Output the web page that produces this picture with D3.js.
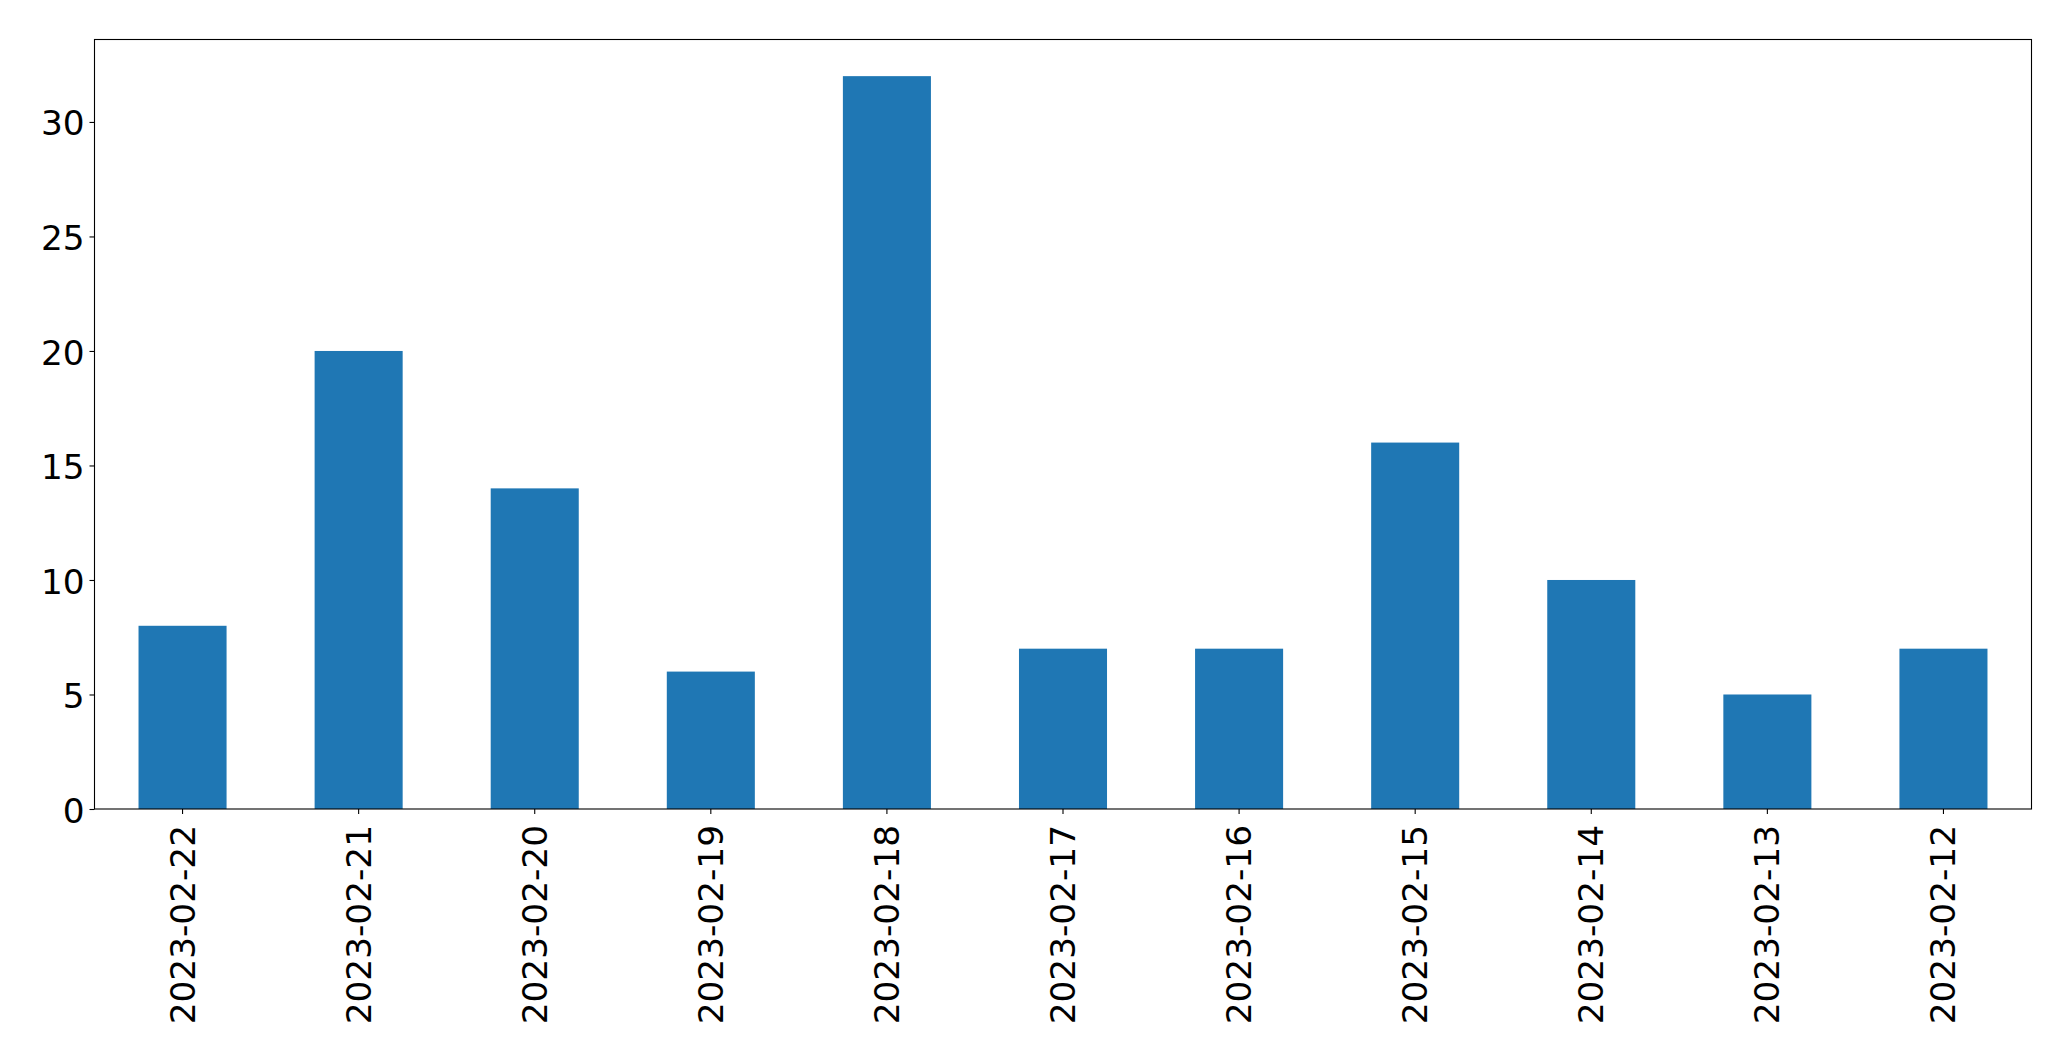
<!DOCTYPE html>
<html>
<head>
<meta charset="utf-8">
<script src="https://cdn.jsdelivr.net/npm/d3@7"></script>
<style>
  html, body { margin: 0; padding: 0; background: #fff; }
  svg { display: block; }
  text { font-family: "DejaVu Sans", sans-serif; fill: #000; }
</style>
</head>
<body>
<svg id="chart" width="2071" height="1061"></svg>
<script>
const categories = ["2023-02-22","2023-02-21","2023-02-20","2023-02-19","2023-02-18","2023-02-17","2023-02-16","2023-02-15","2023-02-14","2023-02-13","2023-02-12"];
const values = [8, 20, 14, 6, 32, 7, 7, 16, 10, 5, 7];
const yTicks = [0, 5, 10, 15, 20, 25, 30];

const margin = { left: 94.5, right: 2071 - 2031.5, top: 39.5, bottom: 1061 - 809 };
const W = 2071, H = 1061;
const fs = 34.3;
const tickLen = 5;

const svg = d3.select("#chart");

const x = d3.scaleBand()
  .domain(categories)
  .range([margin.left, W - margin.right])
  .paddingInner(0.5)
  .paddingOuter(0.25);

const yMax = d3.max(values) * 1.05;
const y = d3.scaleLinear()
  .domain([0, yMax])
  .range([H - margin.bottom, margin.top]);

// bars
svg.append("g")
  .selectAll("rect")
  .data(values)
  .join("rect")
  .attr("x", (d, i) => x(categories[i]))
  .attr("width", x.bandwidth())
  .attr("y", d => y(d))
  .attr("height", d => y(0) - y(d))
  .attr("fill", "#1f77b4");

// y axis
const yAxis = svg.append("g")
  .attr("transform", `translate(${margin.left},0)`)
  .call(d3.axisLeft(y).tickValues(yTicks).tickSize(tickLen).tickPadding(4.9).tickFormat(d3.format("d")));
yAxis.select(".domain").remove();
yAxis.selectAll(".tick line").attr("stroke", "#000").attr("stroke-width", 1.1);
yAxis.selectAll(".tick text")
  .attr("font-size", fs)
  .attr("dy", "0.38em")
  .style("font-family", "'DejaVu Sans', sans-serif");

// x axis
const xAxis = svg.append("g")
  .attr("transform", `translate(0,${H - margin.bottom})`)
  .call(d3.axisBottom(x).tickSize(tickLen).tickPadding(0));
xAxis.select(".domain").remove();
xAxis.selectAll(".tick line").attr("stroke", "#000").attr("stroke-width", 1.1);
xAxis.selectAll(".tick text")
  .attr("font-size", fs)
  .attr("text-anchor", "end")
  .attr("transform", `translate(0,${tickLen + 11}) rotate(-90)`)
  .attr("x", 0)
  .attr("y", 0)
  .attr("dy", "0.35em")
  .style("font-family", "'DejaVu Sans', sans-serif");

// frame
svg.append("rect")
  .attr("x", margin.left)
  .attr("y", margin.top)
  .attr("width", W - margin.right - margin.left)
  .attr("height", H - margin.bottom - margin.top)
  .attr("fill", "none")
  .attr("stroke", "#000")
  .attr("stroke-width", 1.1);
</script>
</body>
</html>
